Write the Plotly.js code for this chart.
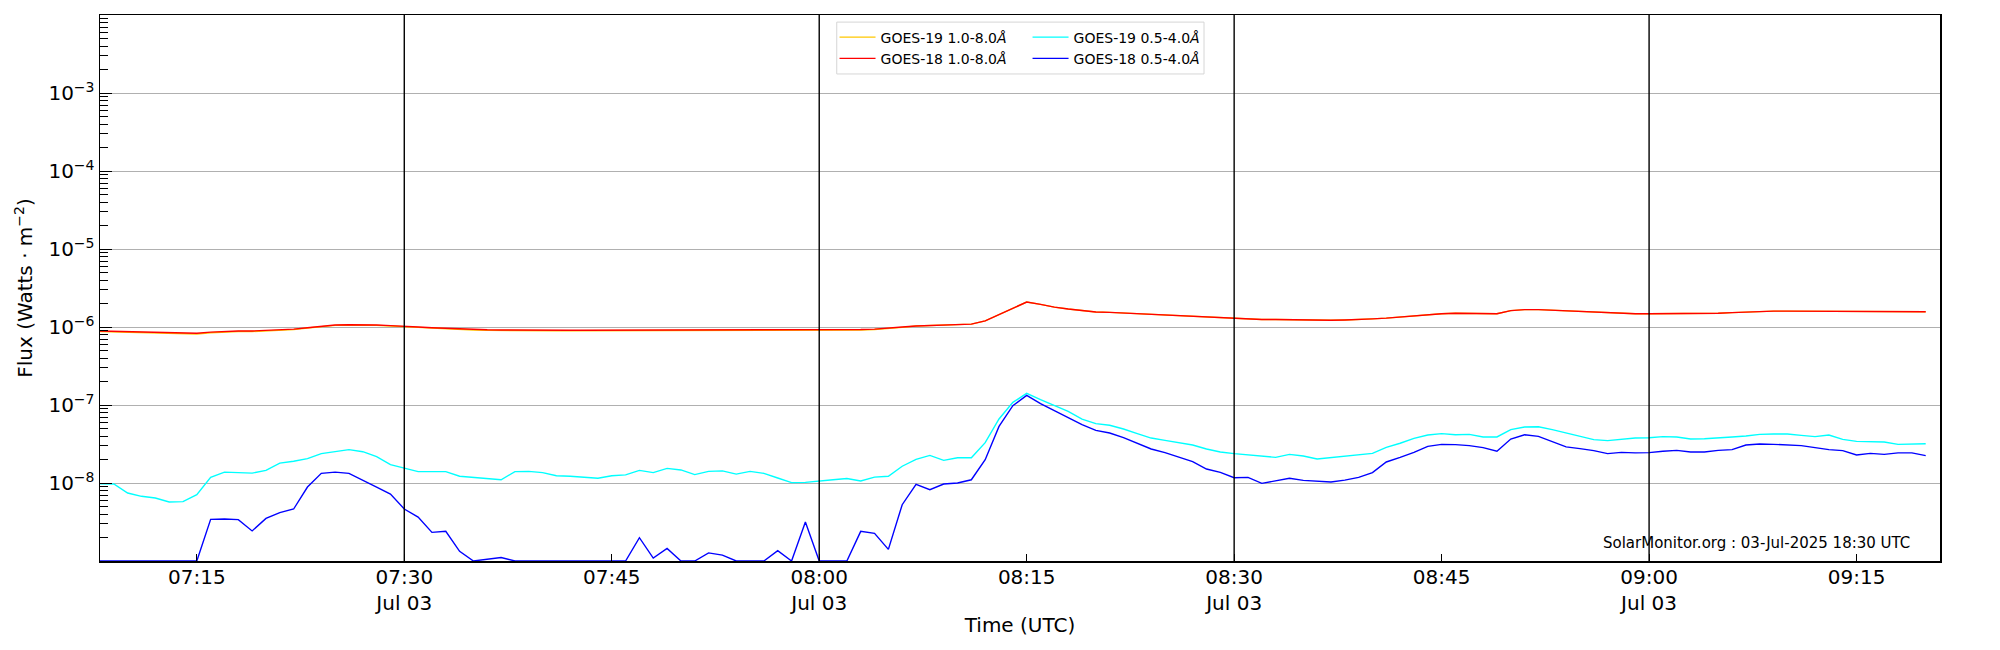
<!DOCTYPE html>
<html>
<head>
<meta charset="utf-8">
<script src="https://cdn.plot.ly/plotly-3.0.1.min.js"></script>
<style>
  html, body { margin: 0; padding: 0; background: #fff; }
  #chart { width: 2000px; height: 650px; }
</style>
</head>
<body>
<div id="chart"></div>
<script>
// one-minute GOES XRS fluxes, 03-Jul-2025 07:08 -> 09:20 UTC (W m^-2)
const firstMinute = Date.UTC(2025, 6, 3, 7, 8);

const goes19Long = [
    8.75e-7, 8.65e-7, 8.55e-7, 8.45e-7, 8.4e-7, 8.3e-7, 8.25e-7, 8.15e-7, 8.45e-7, 8.65e-7,
    8.75e-7, 8.75e-7, 8.85e-7, 9.05e-7, 9.25e-7, 9.7e-7, 1.02e-6, 1.05e-6, 1.06e-6, 1.06e-6,
    1.05e-6, 1.03e-6, 1.0e-6, 9.9e-7, 9.7e-7, 9.45e-7, 9.35e-7, 9.15e-7, 9.05e-7, 9.0e-7,
    8.95e-7, 8.95e-7, 8.95e-7, 8.95e-7, 8.95e-7, 8.95e-7, 8.95e-7, 8.95e-7, 8.95e-7, 8.95e-7,
    8.95e-7, 8.95e-7, 8.95e-7, 8.95e-7, 8.95e-7, 8.95e-7, 8.95e-7, 8.95e-7, 8.95e-7, 8.95e-7,
    8.95e-7, 9.0e-7, 9.05e-7, 9.05e-7, 9.15e-7, 9.15e-7, 9.3e-7, 9.5e-7, 9.9e-7, 1.03e-6,
    1.04e-6, 1.05e-6, 1.06e-6, 1.09e-6, 1.2e-6, 1.45e-6, 1.77e-6, 2.09e-6, 1.95e-6, 1.80e-6,
    1.70e-6, 1.62e-6, 1.56e-6, 1.54e-6, 1.51e-6, 1.48e-6, 1.45e-6, 1.44e-6, 1.41e-6, 1.38e-6,
    1.34e-6, 1.32e-6, 1.29e-6, 1.27e-6, 1.25e-6, 1.25e-6, 1.24e-6, 1.23e-6, 1.23e-6, 1.22e-6,
    1.23e-6, 1.24e-6, 1.27e-6, 1.30e-6, 1.34e-6, 1.40e-6, 1.45e-6, 1.48e-6, 1.50e-6, 1.50e-6,
    1.50e-6, 1.48e-6, 1.62e-6, 1.67e-6, 1.67e-6, 1.64e-6, 1.59e-6, 1.56e-6, 1.53e-6, 1.51e-6,
    1.50e-6, 1.48e-6, 1.48e-6, 1.48e-6, 1.48e-6, 1.48e-6, 1.48e-6, 1.50e-6, 1.53e-6, 1.56e-6,
    1.59e-6, 1.60e-6, 1.60e-6, 1.60e-6, 1.60e-6, 1.60e-6, 1.59e-6, 1.59e-6, 1.59e-6, 1.57e-6,
    1.57e-6, 1.57e-6, 1.57e-6
];

const goes18Long = [
    8.9e-7, 8.8e-7, 8.7e-7, 8.6e-7, 8.55e-7, 8.45e-7, 8.4e-7, 8.3e-7, 8.6e-7, 8.8e-7,
    8.9e-7, 8.9e-7, 9.0e-7, 9.2e-7, 9.4e-7, 9.8e-7, 1.03e-6, 1.06e-6, 1.07e-6, 1.07e-6,
    1.06e-6, 1.04e-6, 1.01e-6, 1.0e-6, 9.8e-7, 9.6e-7, 9.5e-7, 9.3e-7, 9.2e-7, 9.15e-7,
    9.1e-7, 9.1e-7, 9.1e-7, 9.1e-7, 9.1e-7, 9.1e-7, 9.1e-7, 9.1e-7, 9.1e-7, 9.1e-7,
    9.1e-7, 9.1e-7, 9.1e-7, 9.1e-7, 9.1e-7, 9.1e-7, 9.1e-7, 9.1e-7, 9.1e-7, 9.1e-7,
    9.1e-7, 9.15e-7, 9.2e-7, 9.2e-7, 9.3e-7, 9.3e-7, 9.4e-7, 9.6e-7, 1.0e-6, 1.03e-6,
    1.04e-6, 1.05e-6, 1.06e-6, 1.09e-6, 1.2e-6, 1.45e-6, 1.77e-6, 2.09e-6, 1.95e-6, 1.80e-6,
    1.70e-6, 1.62e-6, 1.56e-6, 1.54e-6, 1.51e-6, 1.48e-6, 1.45e-6, 1.44e-6, 1.41e-6, 1.38e-6,
    1.34e-6, 1.32e-6, 1.29e-6, 1.27e-6, 1.25e-6, 1.25e-6, 1.24e-6, 1.23e-6, 1.23e-6, 1.22e-6,
    1.23e-6, 1.24e-6, 1.27e-6, 1.30e-6, 1.34e-6, 1.40e-6, 1.45e-6, 1.48e-6, 1.50e-6, 1.50e-6,
    1.50e-6, 1.48e-6, 1.62e-6, 1.67e-6, 1.67e-6, 1.64e-6, 1.59e-6, 1.56e-6, 1.53e-6, 1.51e-6,
    1.50e-6, 1.48e-6, 1.48e-6, 1.48e-6, 1.48e-6, 1.48e-6, 1.48e-6, 1.50e-6, 1.53e-6, 1.56e-6,
    1.59e-6, 1.60e-6, 1.60e-6, 1.60e-6, 1.60e-6, 1.60e-6, 1.59e-6, 1.59e-6, 1.59e-6, 1.57e-6,
    1.57e-6, 1.57e-6, 1.57e-6
];

const goes19Short = [
    9.8e-9, 9.7e-9, 7.44e-9, 6.75e-9, 6.42e-9, 5.71e-9, 5.77e-9, 7.09e-9, 1.18e-8, 1.38e-8,
    1.36e-8, 1.34e-8, 1.45e-8, 1.80e-8, 1.90e-8, 2.05e-8, 2.38e-8, 2.55e-8, 2.68e-8, 2.52e-8,
    2.18e-8, 1.72e-8, 1.56e-8, 1.40e-8, 1.40e-8, 1.40e-8, 1.22e-8, 1.18e-8, 1.14e-8, 1.10e-8,
    1.40e-8, 1.41e-8, 1.36e-8, 1.24e-8, 1.22e-8, 1.18e-8, 1.15e-8, 1.24e-8, 1.27e-8, 1.45e-8,
    1.36e-8, 1.54e-8, 1.47e-8, 1.28e-8, 1.41e-8, 1.43e-8, 1.30e-8, 1.41e-8, 1.33e-8, 1.16e-8,
    1.01e-8, 1.02e-8, 1.05e-8, 1.10e-8, 1.14e-8, 1.06e-8, 1.19e-8, 1.22e-8, 1.64e-8, 2.01e-8,
    2.26e-8, 1.95e-8, 2.11e-8, 2.11e-8, 3.29e-8, 6.62e-8, 1.08e-7, 1.41e-7, 1.17e-7, 9.9e-8,
    8.3e-8, 6.6e-8, 5.77e-8, 5.49e-8, 4.92e-8, 4.29e-8, 3.77e-8, 3.52e-8, 3.32e-8, 3.07e-8,
    2.73e-8, 2.50e-8, 2.38e-8, 2.31e-8, 2.20e-8, 2.13e-8, 2.33e-8, 2.22e-8, 2.03e-8, 2.11e-8,
    2.20e-8, 2.29e-8, 2.40e-8, 2.86e-8, 3.23e-8, 3.74e-8, 4.12e-8, 4.29e-8, 4.16e-8, 4.20e-8,
    3.89e-8, 3.89e-8, 4.83e-8, 5.22e-8, 5.27e-8, 4.83e-8, 4.37e-8, 4.01e-8, 3.60e-8, 3.49e-8,
    3.66e-8, 3.77e-8, 3.81e-8, 3.93e-8, 3.89e-8, 3.66e-8, 3.70e-8, 3.77e-8, 3.89e-8, 4.01e-8,
    4.20e-8, 4.25e-8, 4.25e-8, 4.08e-8, 3.93e-8, 4.12e-8, 3.63e-8, 3.42e-8, 3.42e-8, 3.35e-8,
    3.13e-8, 3.19e-8, 3.19e-8
];

// values at or under 1e-9 sit on the bottom of the plot
const goes18Short = [
    1e-9, 1e-9, 1e-9, 1e-9, 1e-9, 1e-9, 1e-9, 1e-9, 3.42e-9, 3.45e-9,
    3.39e-9, 2.43e-9, 3.52e-9, 4.17e-9, 4.64e-9, 8.88e-9, 1.33e-8, 1.38e-8, 1.33e-8, 1.10e-8,
    8.88e-9, 7.22e-9, 4.64e-9, 3.66e-9, 2.33e-9, 2.40e-9, 1.33e-9, 1e-9, 1.06e-9, 1.11e-9,
    1e-9, 1e-9, 1e-9, 1e-9, 1e-9, 1e-9, 1e-9, 1e-9, 1e-9, 1.99e-9,
    1.09e-9, 1.45e-9, 1e-9, 1e-9, 1.27e-9, 1.19e-9, 1e-9, 1e-9, 1e-9, 1.36e-9,
    1e-9, 3.16e-9, 1e-9, 1e-9, 1e-9, 2.40e-9, 2.26e-9, 1.41e-9, 5.27e-9, 9.6e-9,
    8.22e-9, 9.7e-9, 1.0e-8, 1.10e-8, 1.99e-8, 5.32e-8, 9.8e-8, 1.33e-7, 1.04e-7, 8.45e-8,
    6.94e-8, 5.60e-8, 4.73e-8, 4.37e-8, 3.81e-8, 3.26e-8, 2.73e-8, 2.45e-8, 2.13e-8, 1.88e-8,
    1.51e-8, 1.37e-8, 1.17e-8, 1.18e-8, 9.9e-9, 1.07e-8, 1.15e-8, 1.08e-8, 1.06e-8, 1.03e-8,
    1.09e-8, 1.18e-8, 1.36e-8, 1.86e-8, 2.13e-8, 2.47e-8, 2.95e-8, 3.13e-8, 3.10e-8, 3.01e-8,
    2.84e-8, 2.55e-8, 3.66e-8, 4.16e-8, 3.96e-8, 3.39e-8, 2.90e-8, 2.76e-8, 2.60e-8, 2.38e-8,
    2.47e-8, 2.43e-8, 2.45e-8, 2.55e-8, 2.62e-8, 2.50e-8, 2.50e-8, 2.62e-8, 2.68e-8, 3.07e-8,
    3.16e-8, 3.13e-8, 3.10e-8, 3.01e-8, 2.84e-8, 2.68e-8, 2.60e-8, 2.29e-8, 2.40e-8, 2.33e-8,
    2.43e-8, 2.43e-8, 2.24e-8
];

const timeTicks = ['2025-07-03 07:15', '2025-07-03 07:30', '2025-07-03 07:45', '2025-07-03 08:00',
    '2025-07-03 08:15', '2025-07-03 08:30', '2025-07-03 08:45', '2025-07-03 09:00', '2025-07-03 09:15'];
const timeTickText = ['07:15', '07:30<br>Jul 03', '07:45', '08:00<br>Jul 03', '08:15',
    '08:30<br>Jul 03', '08:45', '09:00<br>Jul 03', '09:15'];
const halfHourLines = ['2025-07-03 07:30', '2025-07-03 08:00', '2025-07-03 08:30', '2025-07-03 09:00'];

const fluxTicks = [1e-8, 1e-7, 1e-6, 1e-5, 1e-4, 1e-3];
const fluxTickText = ['10<sup>−8</sup>', '10<sup>−7</sup>', '10<sup>−6</sup>', '10<sup>−5</sup>',
    '10<sup>−4</sup>', '10<sup>−3</sup>'];
const goesClasses = ['A', 'B', 'C', 'M', 'X'];
const goesClassPos = [3.162e-8, 3.162e-7, 3.162e-6, 3.162e-5, 3.162e-4];

const times = goes18Long.map((v, i) => {
    const d = new Date(firstMinute + i * 60000);
    return d.toISOString().slice(0, 19).replace('T', ' ');
});

// log minor ticks 2..9 in every decade
const minorTicks = [];
for (let e = -9; e < -2; e++) {
    for (let d = 2; d <= 9; d++) {
        minorTicks.push(d * Math.pow(10, e));
    }
}

const font = 'DejaVu Sans, sans-serif';

function series(y, name, color, legend) {
    return {
        x: times,
        y: y,
        type: 'scatter',
        mode: 'lines',
        name: name,
        legend: legend,
        line: { color: color, width: 1.4 },
        hoverinfo: 'skip'
    };
}

var data = [
    series(goes19Long, 'GOES-19 1.0-8.0<i>Å</i>', '#ffc700', 'legend'),
    series(goes18Long, 'GOES-18 1.0-8.0<i>Å</i>', '#ff0000', 'legend'),
    series(goes19Short, 'GOES-19 0.5-4.0<i>Å</i>', '#00ffff', 'legend2'),
    series(goes18Short, 'GOES-18 0.5-4.0<i>Å</i>', '#0000ff', 'legend2')
];

var shapes = [];
halfHourLines.forEach((t) => {
    shapes.push({
        type: 'line', xref: 'x', yref: 'paper',
        x0: t, x1: t, y0: 0, y1: 1,
        line: { color: '#000', width: 1.4 }
    });
});
// legend frame
shapes.push({
    type: 'rect', xref: 'paper', yref: 'paper',
    x0: 0.4004, x1: 0.6, y0: 0.892, y1: 0.987,
    line: { color: '#d6d6d6', width: 1 },
    fillcolor: 'rgba(255,255,255,0.8)',
    layer: 'above'
});

const legendBase = {
    xanchor: 'left', yanchor: 'top', y: 0.988,
    bgcolor: 'rgba(0,0,0,0)', borderwidth: 0,
    font: { family: font, size: 14, color: '#000' },
    itemwidth: 36, tracegroupgap: 0
};

const layout = {
    width: 2000,
    height: 650,
    margin: { l: 100, r: 60, t: 15, b: 89 },
    paper_bgcolor: '#fff',
    plot_bgcolor: '#fff',
    font: { family: font, size: 20, color: '#000' },
    showlegend: true,
    legend: Object.assign({ x: 0.3992 }, legendBase),
    legend2: Object.assign({ x: 0.5041 }, legendBase),
    xaxis: {
        type: 'date',
        range: ['2025-07-03 07:08:00', '2025-07-03 09:21:02'],
        tickmode: 'array',
        tickvals: timeTicks,
        ticktext: timeTickText,
        ticks: 'inside',
        ticklen: 7,
        tickwidth: 1,
        tickcolor: '#000',
        tickfont: { size: 20 },
        ticklabelstandoff: -3,
        showgrid: false,
        zeroline: false,
        showline: true,
        linecolor: '#000',
        linewidth: 1.5,
        mirror: true,
        title: { text: 'Time (UTC)', font: { size: 20 }, standoff: 4 }
    },
    yaxis: {
        type: 'log',
        range: [-9, -2],
        tickmode: 'array',
        tickvals: fluxTicks,
        ticktext: fluxTickText,
        ticks: 'inside',
        ticklen: 12,
        tickcolor: '#000',
        tickfont: { size: 20 },
        minor: { tickmode: 'array', tickvals: minorTicks, ticks: 'inside', ticklen: 8, tickcolor: '#000', showgrid: false },
        showgrid: true,
        gridcolor: '#b0b0b0',
        gridwidth: 1,
        zeroline: false,
        showline: true,
        linecolor: '#000',
        linewidth: 1.5,
        mirror: true,
        title: { text: 'Flux (Watts · m<sup>−2</sup>)', font: { size: 20 }, standoff: 10 }
    },
    yaxis2: {
        type: 'log',
        overlaying: 'y',
        side: 'right',
        range: [-9, -2],
        tickmode: 'array',
        tickvals: goesClassPos,
        ticktext: goesClasses,
        ticks: 'inside',
        ticklen: 8,
        tickcolor: '#000',
        tickfont: { size: 20 },
        minor: { tickmode: 'array', tickvals: minorTicks, ticks: 'inside', ticklen: 8, tickcolor: '#000', showgrid: false },
        showgrid: false,
        zeroline: false,
        showline: true,
        linecolor: '#000',
        linewidth: 1.5,
        title: { text: 'GOES Class', font: { size: 20 }, standoff: 6 }
    },
    shapes: shapes,
    annotations: [{
        xref: 'paper', yref: 'paper',
        x: 0.985, y: 0.033,
        xanchor: 'right', yanchor: 'middle',
        text: 'SolarMonitor.org : 03-Jul-2025 18:30 UTC',
        showarrow: false,
        font: { family: font, size: 15, color: '#000' }
    }]
};

Plotly.newPlot('chart', data, layout, { staticPlot: true, displayModeBar: false });
</script>
</body>
</html>
